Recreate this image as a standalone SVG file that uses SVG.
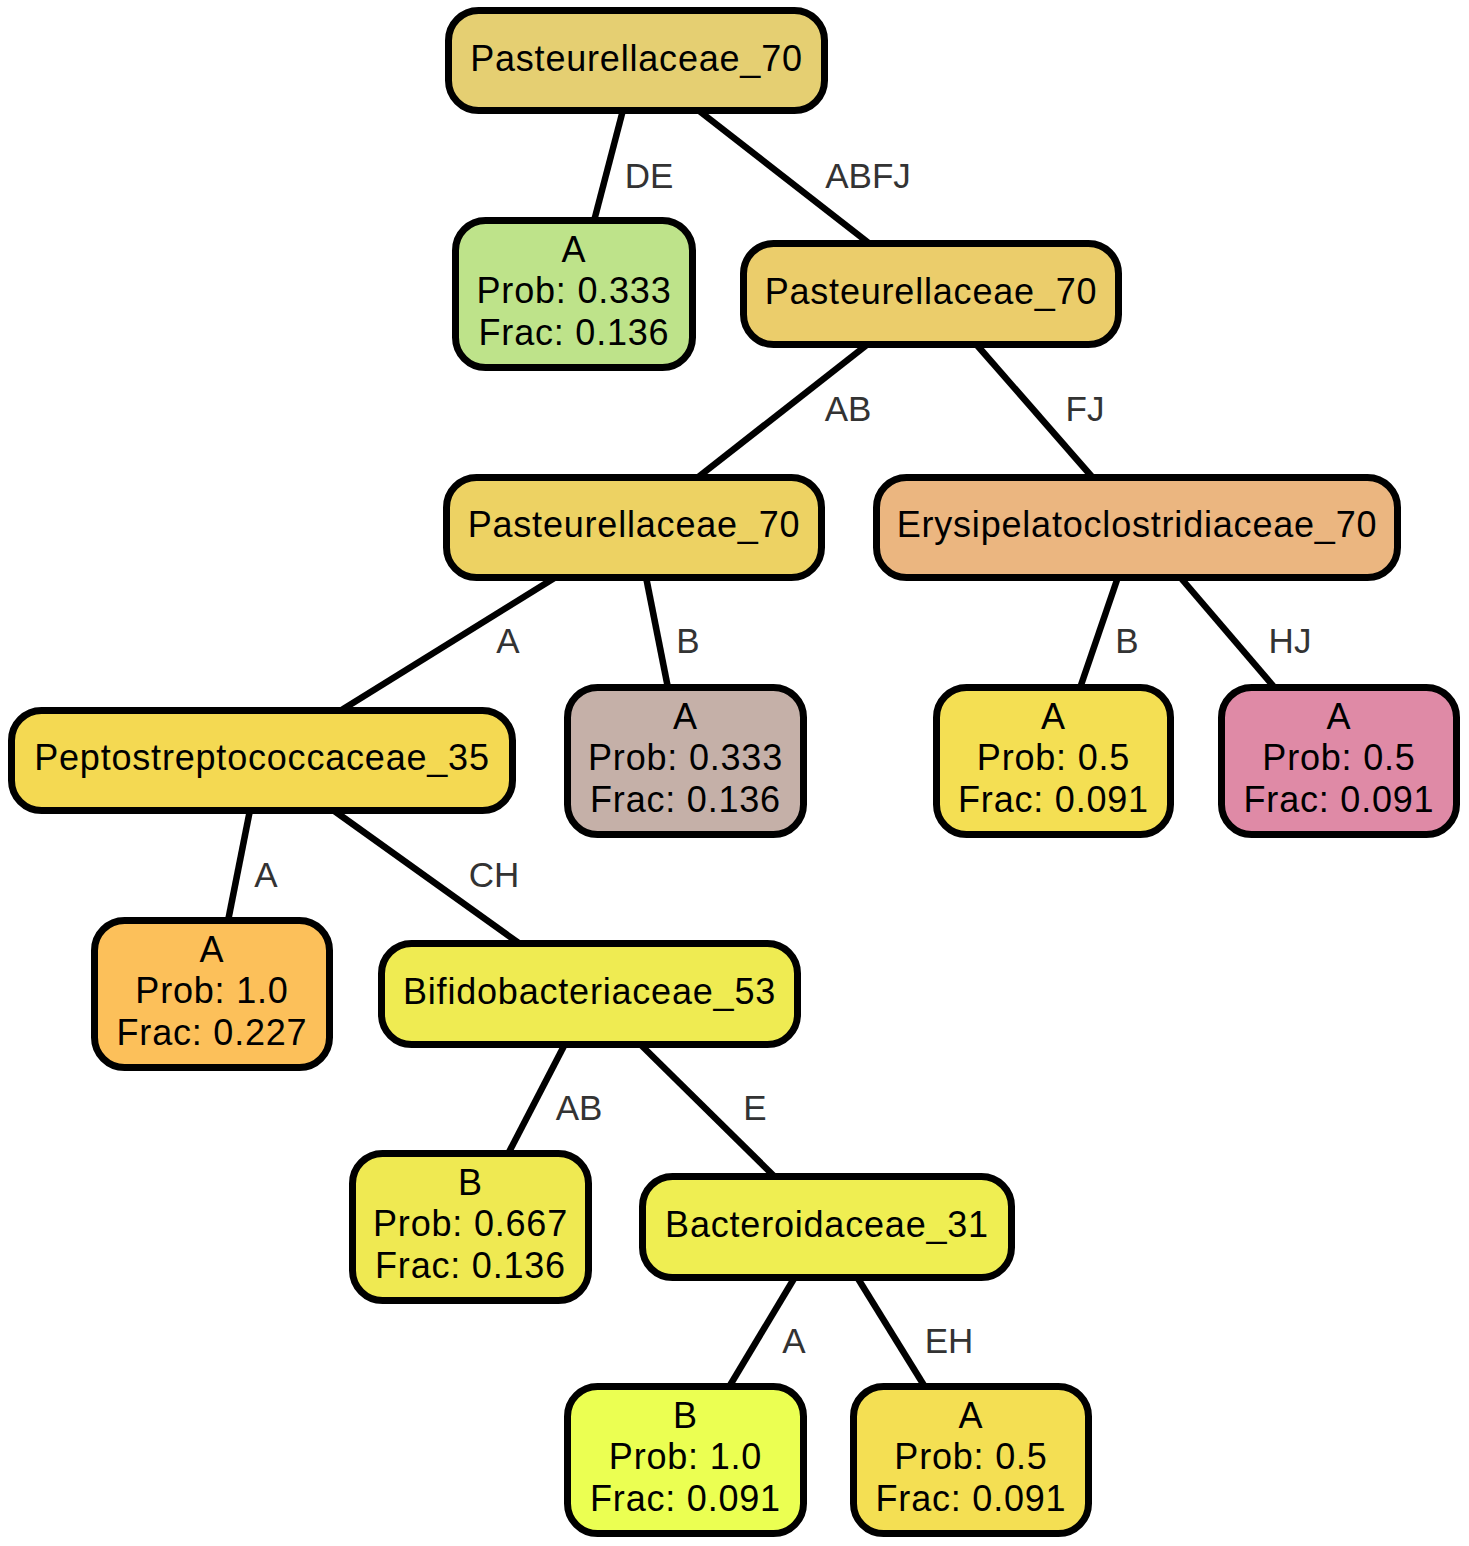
<svg xmlns="http://www.w3.org/2000/svg" width="1469" height="1546" viewBox="0 0 1469 1546">
<style>
.n rect{stroke:#000;stroke-width:7}
.n text{font-family:"Liberation Sans",Arial,Helvetica,sans-serif;font-size:36px;letter-spacing:0.8px;text-anchor:middle;fill:#000}
#edges line{stroke:#000;stroke-width:6.5}
#edges text{font-family:"Liberation Sans",Arial,Helvetica,sans-serif;font-size:35px;text-anchor:middle;fill:#333}
</style>
<rect width="1469" height="1546" fill="#fff"/>
<g id="edges">
<line x1="623" y1="110" x2="594" y2="221"/>
<line x1="698" y1="110" x2="870" y2="244"/>
<line x1="868" y1="344" x2="697" y2="478"/>
<line x1="976" y1="344" x2="1093" y2="478"/>
<line x1="556" y1="577" x2="340" y2="711"/>
<line x1="646" y1="577" x2="668" y2="688"/>
<line x1="1118" y1="577" x2="1080" y2="688"/>
<line x1="1180" y1="577" x2="1275" y2="688"/>
<line x1="250" y1="810" x2="228" y2="921"/>
<line x1="333" y1="810" x2="520" y2="944"/>
<line x1="565" y1="1044" x2="508" y2="1154"/>
<line x1="640" y1="1044" x2="775" y2="1177"/>
<line x1="795" y1="1277" x2="729" y2="1387"/>
<line x1="857" y1="1277" x2="925" y2="1387"/>
<text x="649" y="188">DE</text>
<text x="868" y="188">ABFJ</text>
<text x="848" y="421">AB</text>
<text x="1085" y="421">FJ</text>
<text x="508" y="653">A</text>
<text x="688" y="653">B</text>
<text x="1127" y="653">B</text>
<text x="1290" y="653">HJ</text>
<text x="266" y="887">A</text>
<text x="494" y="887">CH</text>
<text x="579" y="1120">AB</text>
<text x="755" y="1120">E</text>
<text x="794" y="1353">A</text>
<text x="949" y="1353">EH</text>
</g>
<g id="n1" class="n"><rect x="448.5" y="10.5" width="376" height="100" rx="30" fill="#E5CF72"/><text x="636.5" y="71">Pasteurellaceae_70</text></g>
<g id="n2" class="n"><rect x="455.5" y="220.5" width="237" height="147" rx="30" fill="#BEE38A"/><text x="574" y="262">A</text><text x="574" y="303">Prob: 0.333</text><text x="574" y="345">Frac: 0.136</text></g>
<g id="n3" class="n"><rect x="743.5" y="243.5" width="375" height="101" rx="30" fill="#EBCD6B"/><text x="931" y="304">Pasteurellaceae_70</text></g>
<g id="n4" class="n"><rect x="446.5" y="477.5" width="375" height="100" rx="30" fill="#EDD263"/><text x="634" y="537">Pasteurellaceae_70</text></g>
<g id="n5" class="n"><rect x="876.5" y="477.5" width="521" height="100" rx="30" fill="#EBB680"/><text x="1137" y="537">Erysipelatoclostridiaceae_70</text></g>
<g id="n6" class="n"><rect x="11.5" y="710.5" width="501" height="100" rx="30" fill="#F4D952"/><text x="262" y="770">Peptostreptococcaceae_35</text></g>
<g id="n7" class="n"><rect x="567.5" y="687.5" width="236" height="147" rx="30" fill="#C5B0A8"/><text x="685.5" y="729">A</text><text x="685.5" y="770">Prob: 0.333</text><text x="685.5" y="812">Frac: 0.136</text></g>
<g id="n8" class="n"><rect x="936.5" y="687.5" width="234" height="147" rx="30" fill="#F4DF53"/><text x="1053.5" y="729">A</text><text x="1053.5" y="770">Prob: 0.5</text><text x="1053.5" y="812">Frac: 0.091</text></g>
<g id="n9" class="n"><rect x="1221.5" y="687.5" width="235" height="147" rx="30" fill="#DF8AA6"/><text x="1339" y="729">A</text><text x="1339" y="770">Prob: 0.5</text><text x="1339" y="812">Frac: 0.091</text></g>
<g id="n10" class="n"><rect x="94.5" y="920.5" width="235" height="147" rx="30" fill="#FCC05A"/><text x="212" y="962">A</text><text x="212" y="1003">Prob: 1.0</text><text x="212" y="1045">Frac: 0.227</text></g>
<g id="n11" class="n"><rect x="381.5" y="943.5" width="416" height="101" rx="30" fill="#EFEB52"/><text x="589.5" y="1004">Bifidobacteriaceae_53</text></g>
<g id="n12" class="n"><rect x="352.5" y="1153.5" width="236" height="147" rx="30" fill="#EFE952"/><text x="470.5" y="1195">B</text><text x="470.5" y="1236">Prob: 0.667</text><text x="470.5" y="1278">Frac: 0.136</text></g>
<g id="n13" class="n"><rect x="642.5" y="1176.5" width="369" height="101" rx="30" fill="#EFEE52"/><text x="827" y="1237">Bacteroidaceae_31</text></g>
<g id="n14" class="n"><rect x="567.5" y="1386.5" width="236" height="147" rx="30" fill="#EBFF52"/><text x="685.5" y="1428">B</text><text x="685.5" y="1469">Prob: 1.0</text><text x="685.5" y="1511">Frac: 0.091</text></g>
<g id="n15" class="n"><rect x="853.5" y="1386.5" width="235" height="147" rx="30" fill="#F4DF53"/><text x="971" y="1428">A</text><text x="971" y="1469">Prob: 0.5</text><text x="971" y="1511">Frac: 0.091</text></g>
</svg>
